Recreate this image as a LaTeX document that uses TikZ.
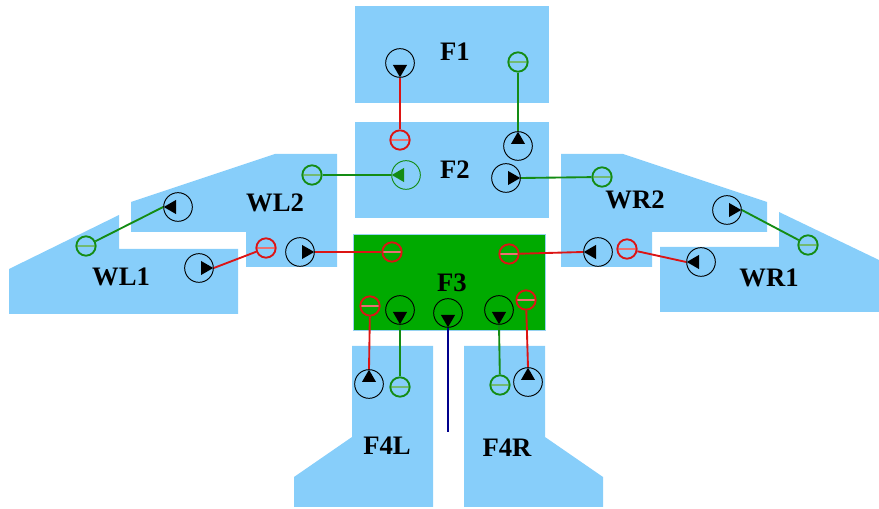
\documentclass[tikz,border=0pt]{standalone}
\usepackage{fontspec}
\setmainfont{Liberation Serif}
\usepackage{xcolor}
\usepackage{tikz}
\usetikzlibrary{arrows.meta, positioning}

\definecolor{segblue}{RGB}{135,206,250}
\definecolor{segrim}{RGB}{150,210,240}
\definecolor{hubgreen}{RGB}{0,170,0}
\definecolor{linkgreen}{RGB}{20,140,20}
\definecolor{linkred}{RGB}{220,20,20}
\definecolor{linknavy}{RGB}{0,0,140}

\begin{document}
\begin{tikzpicture}[x=0.75pt, y=-0.75pt,
    seg/.style={fill=segblue, draw=none},
    hub/.style={fill=hubgreen, draw=segrim, line width=0.6pt},
    lbl/.style={inner sep=0pt, font=\fontsize{20}{21}\selectfont\bfseries},
    pump/.style={circle, draw=#1, line width=0.7pt, minimum size=21.5pt, inner sep=0pt},
    pumpR/.style={pump=#1, path picture={\fill[#1, shift={(path picture bounding box.center)}]
        (10.7pt,0pt) -- (1.5pt,5.3pt) -- (1.5pt,-5.3pt) -- cycle;}},
    pumpL/.style={pump=#1, path picture={\fill[#1, shift={(path picture bounding box.center)}]
        (-10.7pt,0pt) -- (-1.5pt,5.3pt) -- (-1.5pt,-5.3pt) -- cycle;}},
    pumpU/.style={pump=#1, path picture={\fill[#1, shift={(path picture bounding box.center)}]
        (0pt,10.7pt) -- (5.3pt,1.5pt) -- (-5.3pt,1.5pt) -- cycle;}},
    pumpD/.style={pump=#1, path picture={\fill[#1, shift={(path picture bounding box.center)}]
        (0pt,-10.7pt) -- (5.3pt,-1.5pt) -- (-5.3pt,-1.5pt) -- cycle;}},
    pumpR/.default=black, pumpL/.default=black, pumpU/.default=black, pumpD/.default=black,
    gnd/.style={circle, draw=#1, line width=1.4pt, minimum size=14.5pt, inner sep=0pt,
        path picture={\draw[#1!60, line width=1.1pt] (path picture bounding box.west) -- (path picture bounding box.east);}},
    redlink/.style={draw=linkred, line width=1.4pt},
    greenlink/.style={draw=linkgreen, line width=1.4pt},
    navylink/.style={draw=linknavy, line width=1.4pt}]
    \useasboundingbox (0,0) rectangle (879,509);
    % Segments
    \fill[seg] (355,6) rectangle (549,103);
    \fill[seg] (355,122) rectangle (549,218);
    \fill[seg] (131,202) -- (275,154) -- (337,154) -- (337,267) -- (246,267) -- (246,232) -- (131,232) -- cycle;
    \fill[seg] (9,269) -- (119,215) -- (119,249) -- (238,249) -- (238,314) -- (9,314) -- cycle;
    \fill[seg] (561,154) -- (623,154) -- (767,202) -- (767,232) -- (652,232) -- (652,267) -- (561,267) -- cycle;
    \fill[seg] (779,212) -- (879,260) -- (879,312) -- (660,312) -- (660,247) -- (779,247) -- cycle;
    \filldraw[hub] (353,234) rectangle (545,330);
    \fill[seg] (352,346) -- (433,346) -- (433,507) -- (294,507) -- (294,477) -- (352,437) -- cycle;
    \fill[seg] (464,346) -- (545,346) -- (545,437) -- (603,477) -- (603,507) -- (464,507) -- cycle;
    % Labels
    \node[lbl] (tF1) at (455,52) {F1};
    \node[lbl] (tF2) at (455,170) {F2};
    \node[lbl] (tWL2) at (275,203) {WL2};
    \node[lbl] (tWL1) at (121,277) {WL1};
    \node[lbl] (tWR2) at (635,200) {WR2};
    \node[lbl] (tWR1) at (769,278) {WR1};
    \node[lbl] (tF3) at (452,283) {F3};
    \node[lbl] (tF4L) at (387,446) {F4L};
    \node[lbl] (tF4R) at (507,448) {F4R};
    % Pumps
    \node[pumpD] (pF1) at (400,63) {};
    \node[pumpU] (pF2a) at (518,146) {};
    \node[pumpL=linkgreen] (pF2b) at (406,175) {};
    \node[pumpR] (pF2c) at (506,178) {};
    \node[pumpL] (pWL2a) at (178,207) {};
    \node[pumpR] (pWL2b) at (300,252) {};
    \node[pumpR] (pWL1) at (199,268) {};
    \node[pumpR] (pWR2a) at (727,210) {};
    \node[pumpL] (pWR2b) at (598,252) {};
    \node[pumpL] (pWR1) at (701,262) {};
    \node[pumpD] (pF3a) at (400,310) {};
    \node[pumpD] (pF3b) at (448,313) {};
    \node[pumpD] (pF3c) at (499,310) {};
    \node[pumpU] (pF4L) at (369,384) {};
    \node[pumpU] (pF4R) at (528,382) {};
    % Grounds
    \node[gnd=linkgreen] (gF1) at (518,62) {};
    \node[gnd=linkred] (gF2) at (400,140) {};
    \node[gnd=linkgreen] (gWL2a) at (312,175) {};
    \node[gnd=linkred] (gWL2b) at (266,248) {};
    \node[gnd=linkgreen] (gWL1) at (86,246) {};
    \node[gnd=linkgreen] (gWR2a) at (602,177) {};
    \node[gnd=linkred] (gWR2b) at (627,249) {};
    \node[gnd=linkgreen] (gWR1) at (808,245) {};
    \node[gnd=linkred] (gF3a) at (392,252) {};
    \node[gnd=linkred] (gF3b) at (509,254) {};
    \node[gnd=linkred] (gF3c) at (370,306) {};
    \node[gnd=linkred] (gF3d) at (526,300) {};
    \node[gnd=linkgreen] (gF4L) at (400,387) {};
    \node[gnd=linkgreen] (gF4R) at (500,385) {};
    \coordinate (tail) at (448,432);
    % Links
    \draw[redlink] (pF1.south) -- (gF2);
    \draw[greenlink] (gF1) -- (pF2a.north);
    \draw[greenlink] (pF2b.west) -- (gWL2a);
    \draw[greenlink] (pF2c.east) -- (gWR2a);
    \draw[greenlink] (pWL2a.west) -- (gWL1);
    \draw[redlink] (gWL2b) -- (pWL1.east);
    \draw[redlink] (pWL2b.east) -- (gF3a);
    \draw[redlink] (gF3b) -- (pWR2b.west);
    \draw[redlink] (gWR2b) -- (pWR1.west);
    \draw[greenlink] (pWR2a.east) -- (gWR1);
    \draw[redlink] (gF3c) -- (pF4L.north);
    \draw[greenlink] (pF3a.south) -- (gF4L);
    \draw[navylink] (pF3b.south) -- (tail);
    \draw[greenlink] (pF3c.south) -- (gF4R);
    \draw[redlink] (gF3d) -- (pF4R.north);
\end{tikzpicture}
\end{document}
